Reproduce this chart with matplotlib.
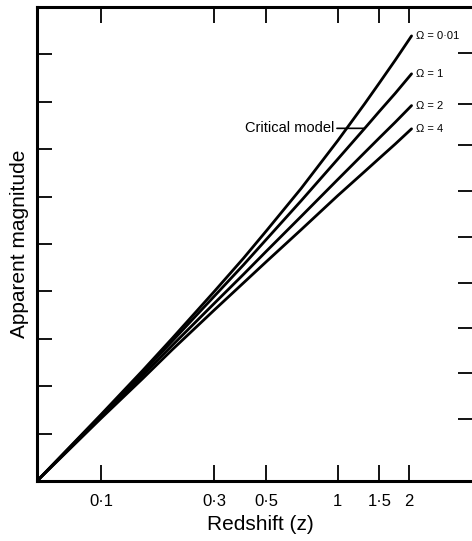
import numpy as np
import matplotlib
matplotlib.use("Agg")
import matplotlib.pyplot as plt

plt.rcParams['font.family'] = ['Liberation Sans', 'DejaVu Sans']

# ---- data ----
redshift = [0.0537, 0.1, 0.15, 0.2, 0.3, 0.4, 0.5, 0.7, 1.0, 1.3, 1.5, 1.75, 2.05]
mag_omega_001 = [0.0, 1.40, 2.33, 3.01, 3.99, 4.70, 5.28, 6.17, 7.18, 7.96, 8.40, 8.88, 9.39]
mag_omega_1 = [0.0, 1.38, 2.29, 2.95, 3.89, 4.56, 5.10, 5.91, 6.79, 7.44, 7.80, 8.18, 8.59]
mag_omega_2 = [0.0, 1.35, 2.23, 2.86, 3.74, 4.36, 4.85, 5.58, 6.36, 6.93, 7.24, 7.57, 7.92]
mag_omega_4 = [0.0, 1.32, 2.16, 2.77, 3.60, 4.18, 4.63, 5.30, 6.02, 6.53, 6.81, 7.11, 7.43]
series = [mag_omega_001, mag_omega_1, mag_omega_2, mag_omega_4]
series_labels = ['Ω = 0·01', 'Ω = 1', 'Ω = 2', 'Ω = 4']

x_ticks = [0.1, 0.3, 0.5, 1, 1.5, 2]
x_tick_labels = ['0·1', '0·3', '0·5', '1', '1·5', '2']
y_ticks_left = [1, 2, 3, 4, 5, 6, 7, 8, 9]
y_ticks_right = [1.31, 2.28, 3.23, 4.18, 5.15, 6.12, 7.09, 7.95, 9.03]
critical_z = 1.30

W, H = 472, 541
fig = plt.figure(figsize=(W / 100, H / 100), dpi=100)
ax = fig.add_axes([37 / W, 1 - 481 / H, (472 - 37) / W, (481 - 7) / H])

for vals in series:
    ax.plot(redshift, vals, color='black', lw=2.0, solid_capstyle='round',
            solid_joinstyle='round')

ax.set_xscale('log')
ax.set_xlim(0.0537, 3.69)
ax.set_ylim(0, 10)
ax.xaxis.set_minor_locator(matplotlib.ticker.NullLocator())
ax.set_xticks(x_ticks)
ax.set_xticklabels(x_tick_labels, fontsize=12)
ax.set_yticks(y_ticks_left)
ax.set_yticklabels([])

ax.tick_params(axis='x', which='major', direction='in', length=11.5, width=1.3,
               top=True, labeltop=False, pad=9)
ax.tick_params(axis='y', which='major', direction='in', length=11, width=1.3,
               right=False, left=True)

for s in ['left', 'bottom', 'top']:
    ax.spines[s].set_linewidth(2.2)
ax.spines['right'].set_visible(False)

ax2 = ax.twinx()
ax2.set_ylim(0, 10)
ax2.set_yticks(y_ticks_right)
ax2.set_yticklabels([])
ax2.tick_params(axis='y', direction='in', length=10, width=1.3)
for s in ax2.spines.values():
    s.set_visible(False)

ax.set_xlabel('Redshift (z)', fontsize=15)
ax.xaxis.set_label_coords(0.513, -0.072)
ax.set_ylabel('Apparent magnitude', fontsize=15)
ax.yaxis.set_label_coords(-0.018, 0.5)

for vals, lab in zip(series, series_labels):
    ax.annotate(lab, xy=(redshift[-1], vals[-1]), xytext=(3, 0),
                textcoords='offset points', va='center', ha='left', fontsize=8)

crit_y = np.interp(np.log10(critical_z), np.log10(redshift), mag_omega_1)
ax.annotate('Critical model', xy=(critical_z, crit_y), xytext=(-22, 0),
            textcoords='offset points', ha='right', va='center', fontsize=10.5,
            arrowprops=dict(arrowstyle='-', color='black', lw=1.2,
                            shrinkA=0, shrinkB=0))

fig.savefig('out.png', dpi=100, facecolor='white')
